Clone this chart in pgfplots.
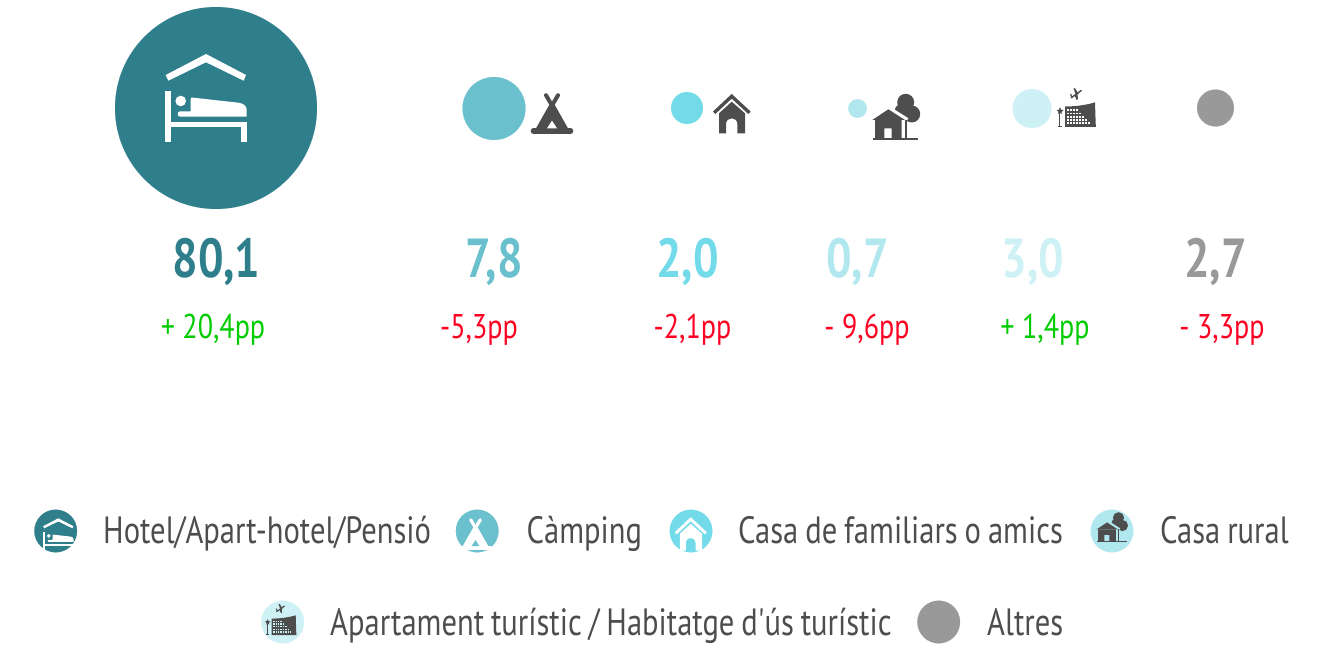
\documentclass[border=0pt]{standalone}
\usepackage{pgfplots}
\pgfplotsset{compat=1.18}
\usepackage{fontspec}
\setmainfont[FakeStretch=0.82]{PT Sans}
\newfontfamily\lgfont[FakeStretch=0.805,WordSpace=0.85]{PT Sans}
\definecolor{cA}{HTML}{2E7F8B}
\definecolor{cB}{HTML}{6AC0CC}
\definecolor{cC}{HTML}{72DAE9}
\definecolor{cD}{HTML}{B1E7EE}
\definecolor{cE}{HTML}{CEF1F6}
\definecolor{cF}{HTML}{999999}
\definecolor{ink}{HTML}{4D4D4D}
\definecolor{up}{HTML}{00CC00}
\definecolor{down}{HTML}{FF0022}
\newcommand\iconbed[2]{%
 \fill[#1] (-40.3,21) -- (0,0) -- (40,21) -- (37.7,26.7) -- (0,8.3) -- (-37.7,26.7) -- cycle;
 \fill[#1] (-40.7,36.7) rectangle (-35.3,87.7);
 \fill[#1] (-35.3,67.7) rectangle (40.7,72.7);
 \fill[#1] (35.3,67.7) rectangle (40.7,87.7);
 \fill[#1] (-25.3,47) circle (5.3);
 \fill[#1] (-14.3,43.5) -- (32.3,48.7) .. controls (38,49.5) and (40.7,52) .. (40.7,56) -- (40.7,62.7) -- (-26,62.7) .. controls (-29,62.7) and (-29,57.3) .. (-26,57.3) -- (-15.3,57.3) -- (-15.3,45) -- cycle;
}
\newcommand\icontipi[3]{%
 \draw[#1,line width=#3*5.4pt,line cap=round] (-18.6,-2.7) -- (18.6,-2.7);
 \fill[#1] (-16,-5.4) -- (-1.5,-31) -- (1.5,-31) -- (16,-5.4) -- cycle;
 \draw[#1,line width=#3*4pt,line cap=round] (-6,-38.5) -- (3,-23);
 \draw[#1,line width=#3*4pt,line cap=round] (6,-38.5) -- (-3,-23);
 \fill[#2] (-5,-5.4) -- (5,-5.4) -- (0,-13) -- cycle;
}
\newcommand\iconhouse[3]{%
 \draw[#1,line width=#3*3.4pt,miter limit=10] (-17.6,-20.5) -- (0,-37) -- (17.8,-20.5);
 \fill[#1] (-12.7,0) -- (-12.7,-20) -- (0,-31.6) -- (13.3,-20) -- (13.3,0) -- (5.7,0) -- (5.7,-9) .. controls (5.7,-17) and (-5.7,-17) .. (-5.7,-9) -- (-5.7,0) -- cycle;
}
\newcommand\iconrural[3]{%
 \fill[#1] (17.4,-37.4) circle (8.5);
 \fill[#1] (23.4,-25.7) circle (8.5);
 \fill[#1] (13,-29) circle (6.5);
 \fill[#2] (-3,-32) -- (0,-34) -- (20,-21.5) -- (17,-16) -- (0,-16) -- cycle;
 \fill[#1] (17,-20) rectangle (18.7,-1);
 \fill[#1] (-16,-19.7) -- (0,-30.4) -- (16.7,-19.7) -- cycle;
 \fill[#1] (-13.3,-19.7) -- (13.4,-19.7) -- (13.4,-1) -- (3.4,-1) -- (3.4,-11.4) -- (-4,-11.4) -- (-4,-1) -- (-13.3,-1) -- cycle;
 \fill[#1] (-15.6,-1.7) rectangle (30,0);
}
\newcommand\iconapart[3]{%
 \fill[#1] (0,-20.5) .. controls (10,-20.5) and (22,-22) .. (30,-24.7) -- (30.7,-3) -- (31,0) -- (0,0) -- cycle;
 \foreach \r/\n in {0/3,1/4,2/5,3/6,4/7}{\foreach \c in {0,...,\n}{%
   \fill[#2] (1.8+\c*3.0,-17.6+\r*3.2) rectangle ++(1.7,1.8);}}
 \fill[#1] (-5.6,0) rectangle (-4.6,-14);
 \fill[#1] (-7.5,-1) rectangle (-3,0);
 \fill[#1] (-5,-20) -- (-4,-17.3) -- (-1.5,-17) -- (-3.5,-15) -- (-3,-13) -- (-5,-14.3) -- (-7,-13) -- (-6.5,-15) -- (-8.5,-17) -- (-6,-17.3) -- cycle;
 % plane
 \fill[#1] (5.5,-29.6) -- (15.5,-36.8) .. controls (17,-37.6) and (17.5,-36.6) .. (16.4,-35.6) -- (6.5,-28.6) -- cycle;
 \fill[#1] (8.5,-38.6) -- (10,-38.8) -- (13.6,-33) -- (10.6,-32.8) -- cycle;
 \fill[#1] (9.5,-31.6) -- (12.6,-33.2) -- (12.9,-27.6) -- (11.6,-27.2) -- cycle;
 \fill[#1] (5,-33) -- (6,-33.2) -- (7.8,-29.8) -- (6.6,-28.8) -- cycle;
}
\begin{document}
\begin{tikzpicture}
\path[use as bounding box] (0,0) rectangle (1327pt,645pt);
\begin{axis}[at={(0,0)},anchor=south west,scale only axis,width=1327pt,height=645pt,
  xmin=0,xmax=1327,ymin=0,ymax=645,y dir=reverse,hide axis,clip=false,
  every axis plot/.append style={only marks,mark=*,line width=0.2pt}]
% x, y, radius (radius = 11.28*sqrt(share))
\addplot[cA,mark size=100.9] coordinates {(216,108)};
\addplot[cB,mark size=31.4] coordinates {(494,108.5)};
\addplot[cC,mark size=15.9] coordinates {(687,108)};
\addplot[cD,mark size=9.3] coordinates {(857.5,108.5)};
\addplot[cE,mark size=19.4] coordinates {(1032,108.5)};
\addplot[cF,mark size=18.4] coordinates {(1215.5,108)};
% legend swatches
\addplot[cA,mark size=21.3] coordinates {(55.7,531)};
\addplot[cB,mark size=21.3] coordinates {(477.2,531)};
\addplot[cC,mark size=21.3] coordinates {(691,531)};
\addplot[cD,mark size=21.3] coordinates {(1112,531)};
\addplot[cE,mark size=21.3] coordinates {(282.7,622)};
\addplot[cF,mark size=21.3] coordinates {(938.7,622)};
% values
\tikzset{val/.style={anchor=base,inner sep=0pt,font=\fontsize{55}{55}\selectfont\bfseries},
 pp/.style={anchor=base,inner sep=0pt,font=\fontsize{34.3}{34}\selectfont},
 lg/.style={anchor=base west,inner sep=0pt,text=ink,font=\lgfont\fontsize{38}{38}\selectfont}}
\node[val,text=cA] at (axis cs:216.5,277) {80,1};
\node[val,text=cB] at (axis cs:494,277) {7,8};
\node[val,text=cC] at (axis cs:687.5,277) {2,0};
\node[val,text=cD] at (axis cs:857.5,277) {0,7};
\node[val,text=cE] at (axis cs:1033,277) {3,0};
\node[val,text=cF] at (axis cs:1215.5,277) {2,7};
\node[pp,text=up] at (axis cs:213,338) {+ 20,4pp};
\node[pp,text=down] at (axis cs:479,338) {-5,3pp};
\node[pp,text=down] at (axis cs:692.5,338) {-2,1pp};
\node[pp,text=down] at (axis cs:867,338) {- 9,6pp};
\node[pp,text=up] at (axis cs:1045,338) {+ 1,4pp};
\node[pp,text=down] at (axis cs:1222,338) {- 3,3pp};
\node[lg] at (axis cs:103,543) {Hotel/Apart-hotel/Pensió};
\node[lg] at (axis cs:526.5,543) {Càmping};
\node[lg] at (axis cs:738,543) {Casa de familiars o amics};
\node[lg] at (axis cs:1160,543) {Casa rural};
\node[lg] at (axis cs:330,635) {Apartament turístic / Habitatge d'ús turístic};
\node[lg] at (axis cs:987,635) {Altres};
\end{axis}
\begin{scope}[x=1pt,y=-1pt,yshift=645pt]
 \begin{scope}[shift={(206,54)}]\iconbed{white}{cA}\end{scope}
 \begin{scope}[shift={(552,133.7)}]\icontipi{ink}{white}{1}\end{scope}
 \begin{scope}[shift={(731.7,133.3)}]\iconhouse{ink}{white}{1}\end{scope}
 \begin{scope}[shift={(888.3,139.7)}]\iconrural{ink}{white}{1}\end{scope}
 \begin{scope}[shift={(1065,127)}]\iconapart{ink}{white}{1}\end{scope}
 \begin{scope}[shift={(58.3,518.3)},scale=.375]\iconbed{white}{cA}\end{scope}
 \begin{scope}[shift={(475.5,550.5)},scale=.8]\icontipi{white}{cB}{.8}\end{scope}
 \begin{scope}[shift={(690.7,550.7)},scale=.85]\iconhouse{white}{cC}{.85}\end{scope}
 \begin{scope}[shift={(1107,542.5)},scale=.66]\iconrural{ink}{cD}{.66}\end{scope}
 \begin{scope}[shift={(271.7,635)},scale=.8]\iconapart{ink}{cE}{.8}\end{scope}
\end{scope}
\end{tikzpicture}
\end{document}
